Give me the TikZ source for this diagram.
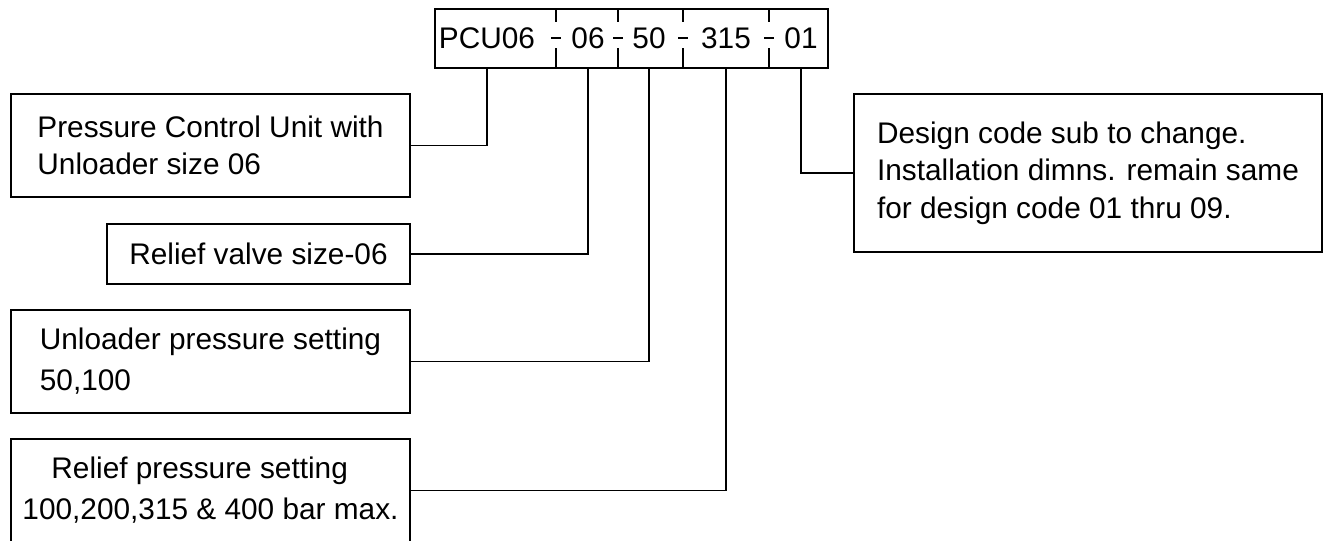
\documentclass[tikz,border=0pt]{standalone}
\usepackage{fontspec}
\setmainfont{Liberation Sans}
\begin{document}
\begin{tikzpicture}[x=1pt, y=-1pt, line width=1.6pt,
	infobox/.style={draw, rectangle, anchor=north west, outer sep=0pt, inner sep=0pt, align=left, font=\fontsize{29.8}{37.5}\selectfont},
	codetxt/.style={anchor=base, inner sep=0pt, font=\fontsize{29.8}{36}\selectfont}]
	\useasboundingbox (0,0) rectangle (1326,541);
	\clip (0,0) rectangle (1326,541);

	% model code on top
	\node[draw, anchor=north west, outer sep=0pt, minimum width=393pt, minimum height=59pt] (code) at (435,9) {};
	\foreach \x/\txt/\nm in {487/PCU06/c1, 588/06/c2, 649/50/c3, 726/315/c4, 801/01/c5} {
		\node[codetxt] (\nm) at (\x,48) {\txt};
	}
	% separators: short ticks with a hyphen across them
	\foreach \x in {556,618,683,769} {
		\draw (\x,9) -- (\x,22);
		\draw (\x,48) -- (\x,68);
		\draw[line width=2pt] (\x-5,38) -- (\x+5,38);
	}

	% description boxes
	\node[infobox, minimum width=399pt, minimum height=103pt] (pcu) at (11,94) {Pressure Control Unit with\\Unloader size 06};
	\node[infobox, minimum width=303pt, minimum height=60pt] (relief) at (107,224) {Relief valve size-06};
	\node[infobox, minimum width=399pt, minimum height=103pt, font=\fontsize{29.8}{41}\selectfont] (unload) at (11,310) {Unloader pressure setting\\50,100};
	\node[infobox, minimum width=399pt, minimum height=103pt, font=\fontsize{29.8}{41}\selectfont] (press) at (11,439) {\hspace*{29pt}Relief pressure setting\\100,200,315 \& 400 bar max.};
	\node[infobox, minimum width=468pt, minimum height=158pt] (design) at (854,94) {Design code sub to change.\\Installation dimns. remain same\\for design code 01 thru 09.};

	% leader lines from code to boxes
	\draw (c1 |- code.south) |- (pcu.east);
	\draw (c2 |- code.south) |- (relief.east);
	\draw (c3 |- code.south) |- (unload.east);
	\draw (c4 |- code.south) |- (press.east);
	\draw (c5 |- code.south) |- (design.west);
\end{tikzpicture}
\end{document}
